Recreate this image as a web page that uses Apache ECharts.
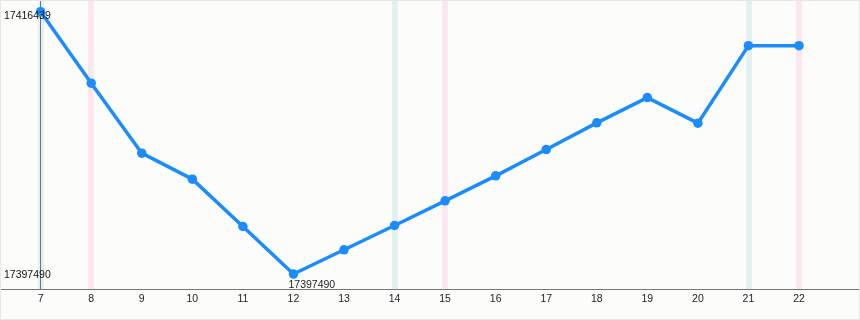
<!DOCTYPE html>
<html>
<head>
<meta charset="utf-8">
<script src="https://cdn.jsdelivr.net/npm/echarts@6/dist/echarts.min.js"></script>
<style>
html,body{margin:0;padding:0;background:#fff;}
#c{width:860px;height:320px;box-sizing:border-box;border:1px solid #e6e8e6;background:#fcfdfb;}
</style>
</head>
<body>
<div id="c"></div>
<script>
var days = [7, 8, 9, 10, 11, 12, 13, 14, 15, 16, 17, 18, 19, 20, 21, 22];
var values = [17416439, 17411272, 17406221, 17404345, 17400925, 17397490, 17399243, 17400997, 17402779, 17404583, 17406481, 17408408, 17410233, 17408386, 17413986, 17413986];
var saturdays = [7, 14, 21];
var sundays = [8, 15, 22];
var xMin = 6.215, xMax = 23.187;
var yMin = 17396410, yMax = 17417210;

var maxV = Math.max.apply(null, values);
var minV = Math.min.apply(null, values);
var minIdx = values.indexOf(minV);

var chart = echarts.init(document.getElementById('c'));
var font = '"Liberation Sans", Arial, sans-serif';
var fs = 10.5;
chart.setOption({
  animation: false,
  backgroundColor: 'transparent',
  grid: {left: 0, right: 0, top: 0, bottom: 30, containLabel: false},
  xAxis: {
    type: 'value', min: xMin, max: xMax,
    splitLine: {show: false},
    axisTick: {show: false},
    axisLine: {show: true, onZero: false, lineStyle: {color: '#777', width: 1}},
    axisLabel: {customValues: days, color: '#222', fontSize: fs, fontFamily: font, margin: 5}
  },
  yAxis: {
    type: 'value', min: yMin, max: yMax,
    splitLine: {show: false},
    axisTick: {show: false},
    axisLine: {show: false},
    z: 10,
    axisLabel: {
      inside: true, margin: 3, customValues: [minV, maxV],
      fontSize: fs, fontFamily: font, color: '#111',
      formatter: function (v) { return v === maxV ? '{t|' + v + '}' : '{b|' + v + '}'; },
      rich: {t: {fontSize: fs, fontFamily: font, color: '#111', padding: [9, 0, 0, 0]},
             b: {fontSize: fs, fontFamily: font, color: '#111', padding: [2, 0, 0, 0]}}
    }
  },
  series: [{
    type: 'line',
    data: days.map(function (d, i) { return [d, values[i]]; }),
    symbol: 'circle', symbolSize: 9.5,
    lineStyle: {color: '#1b8cfa', width: 3.5},
    itemStyle: {color: '#1b8cfa'},
    z: 5,
    label: {
      show: true, position: 'bottom', distance: 1, align: 'left', offset: [-5, 0],
      fontSize: fs, fontFamily: font, color: '#222',
      formatter: function (p) { return p.dataIndex === minIdx ? String(p.value[1]) : ''; }
    },
    markLine: {
      silent: true, symbol: 'none', label: {show: false}, z: 1,
      data: saturdays.map(function (d) { return {xAxis: d, lineStyle: {color: '#e3f1f3', width: 6, type: 'solid'}}; })
        .concat(sundays.map(function (d) { return {xAxis: d, lineStyle: {color: '#fce6f0', width: 6, type: 'solid'}}; }))
        .concat([{xAxis: days[0], lineStyle: {color: '#6b7676', width: 1, type: 'solid'}}])
    }
  }]
});
</script>
</body>
</html>
